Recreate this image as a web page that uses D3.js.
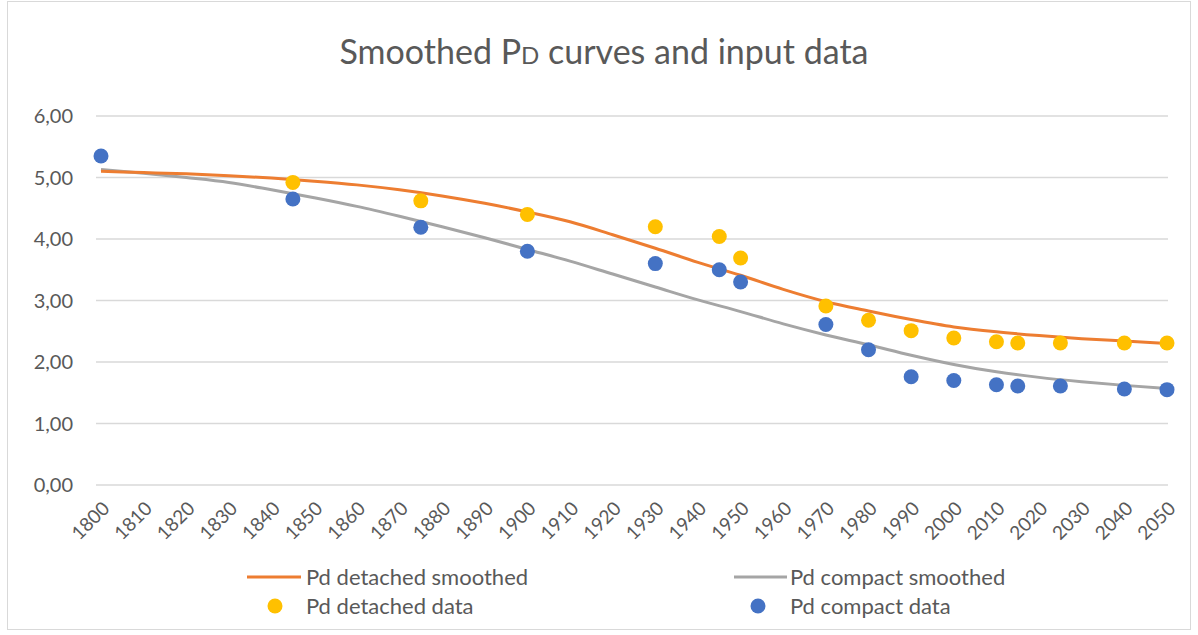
<!DOCTYPE html>
<html>
<head>
<meta charset="utf-8">
<script src="https://cdn.jsdelivr.net/npm/d3@7"></script>
<style>
  body { margin: 0; background: #fff; }
  text { font-family: Lato, "Open Sans", sans-serif; fill: #595959; }
</style>
</head>
<body>
<div id="chart"></div>
<script>
// smoothed curves, every 10 years
var curveYears = [1800, 1810, 1820, 1830, 1840, 1850, 1860, 1870, 1880, 1890, 1900, 1910, 1920,
                  1930, 1940, 1950, 1960, 1970, 1980, 1990, 2000, 2010, 2020, 2030, 2040, 2050];
var detachedSmooth = [5.10, 5.08, 5.06, 5.03, 4.99, 4.94, 4.88, 4.80, 4.70, 4.58, 4.44, 4.28, 4.07,
                      3.85, 3.62, 3.41, 3.18, 2.98, 2.83, 2.69, 2.57, 2.49, 2.43, 2.38, 2.34, 2.30];
var compactSmooth = [5.13, 5.07, 5.00, 4.92, 4.80, 4.67, 4.53, 4.37, 4.20, 4.02, 3.83, 3.64, 3.43,
                     3.22, 3.01, 2.82, 2.62, 2.44, 2.28, 2.11, 1.96, 1.84, 1.75, 1.68, 1.62, 1.57];

// input data points (no detached value for 1800)
var dataYears = [1800, 1845, 1875, 1900, 1930, 1945, 1950, 1970, 1980, 1990, 2000, 2010, 2015, 2025, 2040, 2050];
var detachedData = [null, 4.92, 4.62, 4.40, 4.20, 4.04, 3.69, 2.91, 2.68, 2.51, 2.39, 2.33, 2.31, 2.31, 2.31, 2.31];
var compactData = [5.35, 4.65, 4.19, 3.80, 3.60, 3.50, 3.30, 2.61, 2.20, 1.76, 1.70, 1.63, 1.61, 1.61, 1.56, 1.55];

var yTicks = [0, 1, 2, 3, 4, 5, 6];
var xTicks = d3.range(1800, 2051, 10);

var width = 1198, height = 635;

var svg = d3.select("#chart")
    .append("svg")
    .attr("width", width)
    .attr("height", height);

// chart border
svg.append("rect")
    .attr("x", 7.5).attr("y", 1.5)
    .attr("width", 1183).attr("height", 628)
    .attr("fill", "none")
    .attr("stroke", "#d9d9d9");

var x = d3.scaleLinear().domain([1800, 2050]).range([101, 1167]);
var y = d3.scaleLinear().domain([0, 6]).range([485, 116]);

// gridlines
svg.append("g")
    .selectAll("line")
    .data(yTicks)
    .enter()
    .append("line")
    .attr("x1", 96).attr("x2", 1168)
    .attr("y1", function (d) { return y(d); })
    .attr("y2", function (d) { return y(d); })
    .attr("stroke", "#d9d9d9")
    .attr("stroke-width", 1.5);

// y labels
svg.append("g")
    .selectAll("text")
    .data(yTicks)
    .enter()
    .append("text")
    .attr("x", 73)
    .attr("y", function (d) { return y(d); })
    .attr("dy", "0.35em")
    .attr("text-anchor", "end")
    .style("font-size", "20px")
    .text(function (d) { return d3.format(".2f")(d).replace(".", ","); });

// x labels, rotated
svg.append("g")
    .selectAll("text")
    .data(xTicks)
    .enter()
    .append("text")
    .attr("transform", function (d) { return "translate(" + (x(d) + 5) + ",505) rotate(-45)"; })
    .attr("text-anchor", "end")
    .attr("dy", "0.35em")
    .style("font-size", "19px")
    .text(function (d) { return d; });

// smoothed lines
var line = function (vals) {
    return d3.line()
        .x(function (d, i) { return x(curveYears[i]); })
        .y(function (d) { return y(d); })
        .curve(d3.curveMonotoneX)(vals);
};
svg.append("path")
    .attr("d", line(compactSmooth))
    .attr("fill", "none")
    .attr("stroke", "#a5a5a5")
    .attr("stroke-width", 3);
svg.append("path")
    .attr("d", line(detachedSmooth))
    .attr("fill", "none")
    .attr("stroke", "#ed7d31")
    .attr("stroke-width", 3);

// data points
var yellow = dataYears.map(function (yr, i) { return {yr: yr, v: detachedData[i]}; })
    .filter(function (d) { return d.v != null; });
svg.append("g")
    .selectAll("circle")
    .data(yellow)
    .enter()
    .append("circle")
    .attr("cx", function (d) { return x(d.yr); })
    .attr("cy", function (d) { return y(d.v); })
    .attr("r", 7.5)
    .attr("fill", "#ffc000");
svg.append("g")
    .selectAll("circle")
    .data(compactData)
    .enter()
    .append("circle")
    .attr("cx", function (d, i) { return x(dataYears[i]); })
    .attr("cy", function (d) { return y(d); })
    .attr("r", 7.5)
    .attr("fill", "#4472c4");

// title
var title = svg.append("text")
    .attr("x", 604)
    .attr("y", 64)
    .attr("text-anchor", "middle")
    .style("font-size", "34px");
title.append("tspan").text("Smoothed P");
title.append("tspan").style("font-size", "24px").text("D");
title.append("tspan").text(" curves and input data");

// legend
var legend = svg.append("g").style("font-size", "22px");
legend.append("line").attr("x1", 247).attr("x2", 301).attr("y1", 577).attr("y2", 577)
    .attr("stroke", "#ed7d31").attr("stroke-width", 3);
legend.append("text").attr("x", 306).attr("y", 577).attr("dy", "0.35em").text("Pd detached smoothed");
legend.append("line").attr("x1", 734).attr("x2", 787).attr("y1", 577).attr("y2", 577)
    .attr("stroke", "#a5a5a5").attr("stroke-width", 3);
legend.append("text").attr("x", 790).attr("y", 577).attr("dy", "0.35em").text("Pd compact smoothed");
legend.append("circle").attr("cx", 275).attr("cy", 606).attr("r", 7.5).attr("fill", "#ffc000");
legend.append("text").attr("x", 306).attr("y", 606).attr("dy", "0.35em").text("Pd detached data");
legend.append("circle").attr("cx", 758).attr("cy", 606).attr("r", 7.5).attr("fill", "#4472c4");
legend.append("text").attr("x", 790).attr("y", 606).attr("dy", "0.35em").text("Pd compact data");
</script>
</body>
</html>
